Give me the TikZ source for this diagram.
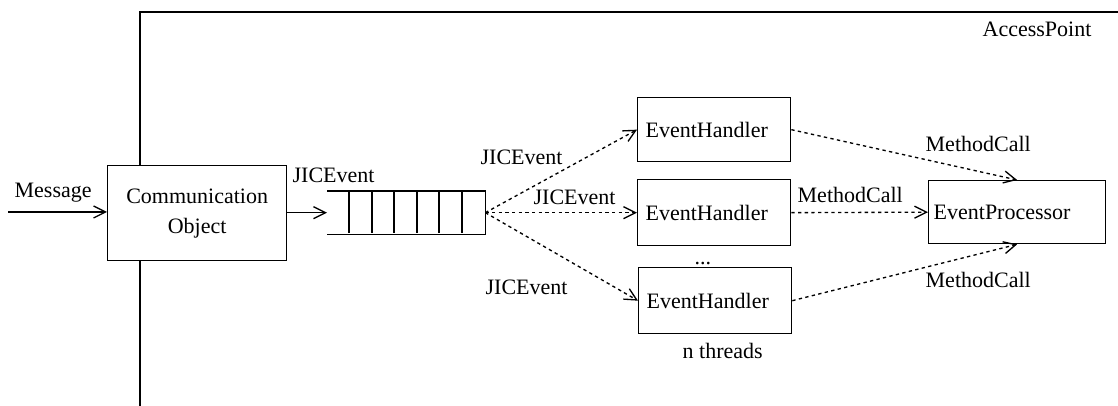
\documentclass[tikz,border=0pt]{standalone}
\usepackage{fontspec}
\setmainfont{Liberation Serif}
\usetikzlibrary{arrows.meta}
\begin{document}
\begin{tikzpicture}[x=0.75pt,y=-0.75pt,
  font=\fontsize{16.5}{22.5}\selectfont,
  line width=1pt,
  box/.style={draw, line width=1pt, inner sep=0pt, anchor=north west},
  ehbox/.style={box, minimum height=48pt, inner xsep=6pt, text width=102.75pt, align=left},
  arr/.style={-{Straight Barb[length=9pt,width=9pt,line width=1pt]}, line width=1pt},
  dotarr/.style={arr, dash pattern=on 2.5pt off 2.5pt},
  lbl/.style={inner sep=0pt, anchor=base west}]
\useasboundingbox (0,0) rectangle (1118,406);

% frame
\coordinate (ftop) at (140,12);
\coordinate (fright) at (1118,12);
\coordinate (fbot) at (140,406);

% nodes
\node[box, minimum width=134.25pt, minimum height=71.25pt, align=center] (co) at (107,165) {Communication\\Object};
\node[inner sep=0pt, anchor=north west, minimum width=117.75pt, minimum height=31.5pt] (q) at (327,191) {};
\node[ehbox] (eh1) at (637,97) {EventHandler};
\node[ehbox, minimum height=49.5pt] (eh2) at (637,179) {EventHandler};
\node[ehbox, minimum height=49.5pt] (eh3) at (638,267) {EventHandler};
\node[box, minimum height=47.25pt, inner xsep=3.75pt, text width=125.25pt, align=left] (ep) at (928,180) {EventProcessor};

% frame lines
\draw (fright) -- (ftop) -- (ftop |- co.north);
\draw (fbot |- co.south) -- (fbot);

% queue
\draw (q.north west) -- (q.north east) -- (q.south east) -- (q.south west);
\foreach \x in {349,372,394,417,439,462}
  \draw (\x,191) -- (\x,233);

% arrows
\coordinate (msg) at (8,212);
\draw[arr] (msg) -- (msg -| co.west);
\draw[arr] (co.east |- q.west) -- (q.west);
\draw[dotarr] (q.east) -- (eh1.west);
\draw[dotarr] (q.east) -- (eh2.west);
\draw[dotarr] (q.east) -- (eh3.west);
\draw[dotarr] (eh1.east) -- (ep.north);
\draw[dotarr] (eh2.east) -- (ep.west);
\draw[dotarr] (eh3.east) -- (ep.south);

% labels
\node[lbl] (lmsg) at (14,198) {Message};
\node[lbl] (lj0) at (292,183) {JICEvent};
\node[lbl] (lj1) at (480,165) {JICEvent};
\node[lbl] (lj2) at (533,205) {JICEvent};
\node[lbl] (lj3) at (485,295) {JICEvent};
\node[lbl] (lm1) at (925,152) {MethodCall};
\node[lbl] (lm2) at (797,203) {MethodCall};
\node[lbl] (lm3) at (925,287) {MethodCall};
\node[lbl] (ldots) at (694,265) {...};
\node[lbl] (lthr) at (682,358) {n threads};
\node[lbl] (lap) at (982,37) {AccessPoint};
\end{tikzpicture}
\end{document}
